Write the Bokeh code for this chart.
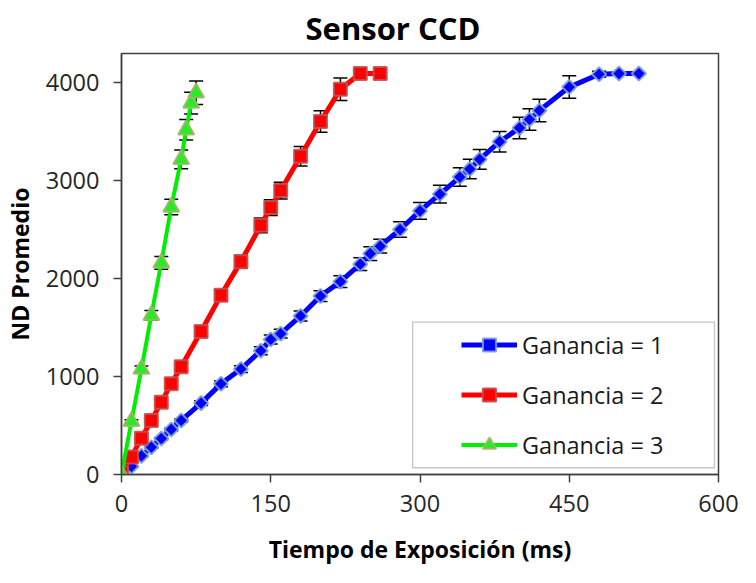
from bokeh.plotting import figure
from bokeh.models import (ColumnDataSource, Whisker, TeeHead, Legend, LegendItem,
                          FixedTicker, Range1d, BoxAnnotation)
from bokeh.embed import file_html
from bokeh.resources import INLINE
import math

# ---------------- data ----------------
gain1_x = [0, 10, 20, 30, 40, 50, 60, 80, 100, 120, 140, 150, 160, 180, 200, 220, 240,
           250, 260, 280, 300, 320, 340, 350, 360, 380, 400, 410, 420, 450, 480, 500, 520]
gain1_y = [0, 82, 190, 279, 367, 460, 552, 729, 926, 1077, 1264, 1379, 1438, 1619, 1823,
           1970, 2148, 2256, 2332, 2502, 2693, 2864, 3038, 3120, 3219, 3399, 3540, 3626,
           3717, 3957, 4088, 4095, 4095]
gain1_err = [0, 5, 8, 10, 12, 15, 18, 25, 30, 35, 40, 45, 45, 50, 55, 60, 65, 70, 70, 80,
             85, 90, 95, 100, 100, 105, 110, 110, 115, 115, 30, 0, 0]

gain2_x = [0, 10, 20, 30, 40, 50, 60, 80, 100, 120, 140, 150, 160, 180, 200, 220, 240, 260]
gain2_y = [15, 180, 371, 552, 739, 926, 1100, 1461, 1832, 2174, 2545, 2726, 2900, 3251,
           3606, 3934, 4095, 4095]
gain2_err = [0, 8, 12, 18, 22, 28, 35, 45, 55, 65, 75, 80, 85, 100, 110, 115, 0, 0]

gain3_x = [0, 10, 20, 30, 40, 50, 60, 65, 70, 75]
gain3_y = [0, 542, 1077, 1626, 2161, 2732, 3219, 3521, 3793, 3898]
gain3_err = [0, 18, 32, 50, 65, 80, 95, 105, 110, 120]

labels = ["Ganancia = 1", "Ganancia = 2", "Ganancia = 3"]
x_ticks = [0, 150, 300, 450, 600]
y_ticks = [0, 1000, 2000, 3000, 4000]

# ---------------- style ----------------
FONT = "Open Sans"
AX = "#404040"
LEGEND_BOX = dict(left=292.6, right=596.0, bottom=69, top=1557)

p = figure(width=740, height=567, output_backend="svg", toolbar_location=None,
           x_range=Range1d(0, 600), y_range=Range1d(0, 4300),
           min_border_left=121, min_border_right=22, min_border_top=52,
           min_border_bottom=90, title="Sensor CCD")

p.title.text_font = FONT
p.title.text_font_size = "31px"
p.title.text_font_style = "bold"
p.title.text_color = "#000000"
p.title.align = "left"
p.title.offset = 184
p.title.standoff = 9

p.xgrid.visible = False
p.ygrid.visible = False
p.outline_line_color = AX
p.outline_line_width = 1.5
p.background_fill_color = "white"
p.border_fill_color = "white"

for ax in (p.xaxis[0], p.yaxis[0]):
    ax.axis_line_color = AX
    ax.axis_line_width = 1.5
    ax.major_tick_line_color = AX
    ax.major_tick_line_width = 1.5
    ax.major_tick_in = 0
    ax.major_tick_out = 8
    ax.minor_tick_line_color = None
    ax.major_label_text_font = FONT
    ax.major_label_text_font_size = "23.5px"
    ax.major_label_text_color = "#262626"
    ax.axis_label_text_font = FONT
    ax.axis_label_text_font_size = "23px"
    ax.axis_label_text_font_style = "bold"
    ax.axis_label_text_color = "#000000"

p.xaxis.ticker = FixedTicker(ticks=x_ticks)
p.yaxis.ticker = FixedTicker(ticks=y_ticks)
p.xaxis.axis_label = "Tiempo de Exposición (ms)"
p.yaxis.axis_label = "ND Promedio"
p.xaxis.major_label_standoff = 12
p.xaxis.axis_label_standoff = 18
p.yaxis.major_label_standoff = 14
p.yaxis.axis_label_standoff = 7

series = [
    (gain1_x, gain1_y, gain1_err, "#0000ff", "square", 10, math.pi / 4, "#0000ff", "#7fa3d6", 5),
    (gain2_x, gain2_y, gain2_err, "#ff0000", "square", 13, 0, "#ff0000", "#c0504d", 5),
    (gain3_x, gain3_y, gain3_err, "#00ee00", "triangle", 16, 0, "#22ee22", "#a3b36b", 4),
]

items = []
for (xs, ys, errs, lc, mk, sz, ang, fc, oc, lw), lab in zip(series, labels):
    src = ColumnDataSource(dict(x=xs, y=ys))
    ln = p.line("x", "y", source=src, line_color=lc, line_width=lw)
    sc = p.scatter("x", "y", source=src, marker=mk, size=sz, angle=ang, fill_color=fc,
                   line_color=oc, line_width=2, line_alpha=0.9)
    ex = [x for x, e in zip(xs, errs) if e > 0]
    up = [y + e for y, e in zip(ys, errs) if e > 0]
    lo = [y - e for y, e in zip(ys, errs) if e > 0]
    esrc = ColumnDataSource(dict(x=ex, upper=up, lower=lo))
    w = Whisker(source=esrc, base="x", upper="upper", lower="lower",
                line_color="black", line_width=1.5,
                upper_head=TeeHead(size=14, line_color="black", line_width=1.5),
                lower_head=TeeHead(size=14, line_color="black", line_width=1.5))
    p.add_layout(w)
    items.append(LegendItem(label=lab, renderers=[ln, sc]))

box = BoxAnnotation(fill_alpha=0, line_color=AX, line_width=1.3, **LEGEND_BOX)
p.add_layout(box)

legend = Legend(items=items, location=(335, 8), padding=5, margin=0,
                glyph_width=56, glyph_height=33, label_height=33, spacing=17,
                label_standoff=5, border_line_alpha=0, background_fill_alpha=0,
                label_text_font=FONT, label_text_font_size="23.5px",
                label_text_color="#1a1a1a")
p.add_layout(legend, "center")

open("out.html", "w").write(file_html(p, INLINE))
